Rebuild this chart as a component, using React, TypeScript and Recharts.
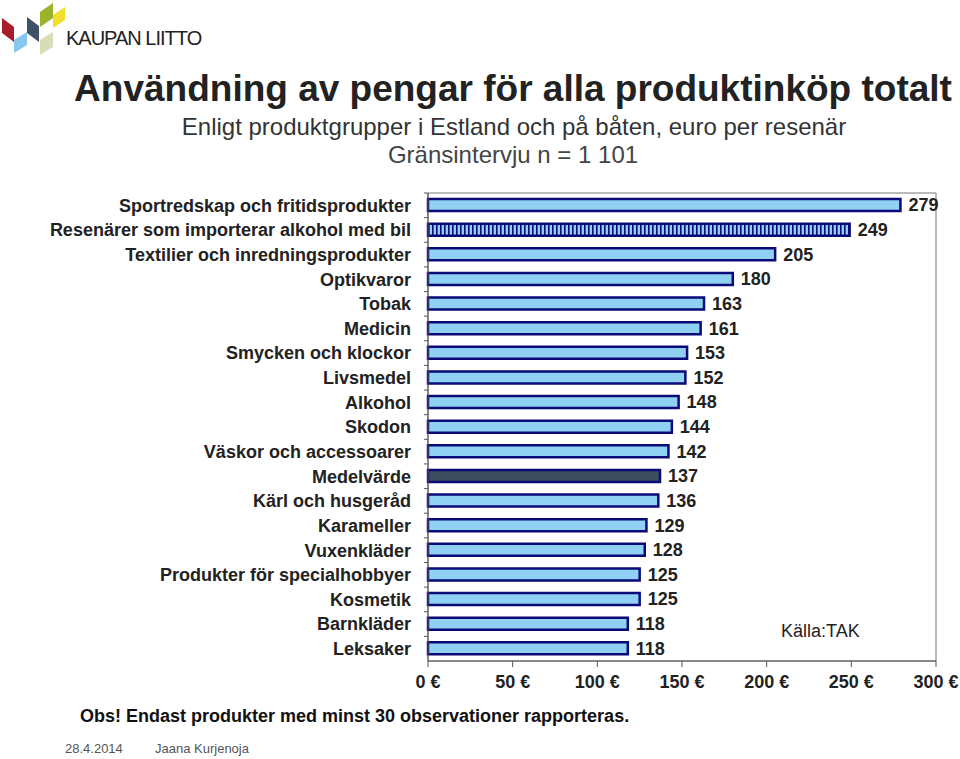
import { BarChart, Bar, XAxis, YAxis, Cell, LabelList, ReferenceArea } from 'recharts'

const CATEGORIES = [
  'Sportredskap och fritidsprodukter',
  'Resenärer som importerar alkohol med bil',
  'Textilier och inredningsprodukter',
  'Optikvaror',
  'Tobak',
  'Medicin',
  'Smycken och klockor',
  'Livsmedel',
  'Alkohol',
  'Skodon',
  'Väskor och accessoarer',
  'Medelvärde',
  'Kärl och husgeråd',
  'Karameller',
  'Vuxenkläder',
  'Produkter för specialhobbyer',
  'Kosmetik',
  'Barnkläder',
  'Leksaker',
]

const VALUES = [279, 249, 205, 180, 163, 161, 153, 152, 148, 144, 142, 137, 136, 129, 128, 125, 125, 118, 118]

const X_TICKS = [0, 50, 100, 150, 200, 250, 300]

const STRIPED = 'Resenärer som importerar alkohol med bil'
const AVERAGE = 'Medelvärde'

const FONT = '"Liberation Sans", Arial, Helvetica, sans-serif'
const BAR_FILL = '#8fd0f3'
const BAR_STROKE = '#0a0a78'
const TICK_SIZE = 4
const TICK_MARGIN = 13

const data = CATEGORIES.map((name, i) => ({ name, value: VALUES[i] }))

function fillFor(name: string) {
  if (name === STRIPED) return 'url(#stripes)'
  if (name === AVERAGE) return '#3b4d5f'
  return BAR_FILL
}

// category label plus a small tick at the upper band boundary (like the original)
function CategoryTick(props: any) {
  const { x, y, payload } = props
  const off = payload?.offset ?? 0
  const axisX = x + TICK_MARGIN + TICK_SIZE
  return (
    <g>
      <text
        x={x}
        y={y}
        dy="0.355em"
        textAnchor="end"
        fontSize={18}
        fontWeight="bold"
        fill="#222"
        fontFamily={FONT}
      >
        {payload.value}
      </text>
      {off > 0 && <line x1={axisX - TICK_SIZE} x2={axisX} y1={y - off} y2={y - off} stroke="#555" />}
    </g>
  )
}

function Logo() {
  return (
    <svg width={70} height={60} style={{ position: 'absolute', left: 0, top: 0 }}>
      <polygon points="2,18 14,27 14,42 2,33" fill="#a81d28" />
      <polygon points="14,40 27,32 27,45 14,53" fill="#86c8ee" />
      <polygon points="27,17 39,26 39,42 27,33" fill="#3f5265" />
      <polygon points="40,12 53,3 53,18 40,27" fill="#9bb22a" />
      <polygon points="53,15 65,7 65,20 53,28" fill="#f0e02c" />
      <polygon points="40,40 53,32 53,47 40,55" fill="#d9dcb6" />
    </svg>
  )
}

export default function App() {
  return (
    <div
      style={{
        position: 'absolute',
        left: 0,
        top: 0,
        width: 960,
        height: 759,
        background: '#fff',
        fontFamily: FONT,
        color: '#222',
        overflow: 'hidden',
      }}
    >
      <svg width={0} height={0} style={{ position: 'absolute' }}>
        <defs>
          <pattern id="stripes" width={4} height={4} patternUnits="userSpaceOnUse">
            <rect width={4} height={4} fill={BAR_FILL} />
            <rect width={1.6} height={4} fill={BAR_STROKE} />
          </pattern>
        </defs>
      </svg>

      <Logo />
      <div style={{ position: 'absolute', left: 66, top: 27, fontSize: 20, color: '#222', letterSpacing: -1 }}>
        KAUPAN LIITTO
      </div>

      <div
        style={{
          position: 'absolute',
          left: 0,
          width: 1026,
          top: 68,
          textAlign: 'center',
          fontSize: 37,
          fontWeight: 'bold',
          color: '#222',
        }}
      >
        Användning av pengar för alla produktinköp totalt
      </div>
      <div style={{ position: 'absolute', left: 0, width: 1028, top: 113, textAlign: 'center', fontSize: 24, color: '#333' }}>
        Enligt produktgrupper i Estland och på båten, euro per resenär
      </div>
      <div style={{ position: 'absolute', left: 0, width: 1026, top: 141, textAlign: 'center', fontSize: 24, color: '#444' }}>
        Gränsintervju n = 1 101
      </div>

      <div style={{ position: 'absolute', left: 0, top: 0 }}>
        <BarChart
          width={960}
          height={720}
          data={data}
          layout="vertical"
          margin={{ top: 193, right: 24, bottom: 29, left: 0 }}
          barCategoryGap={6}
        >
          <ReferenceArea x1={0} x2={300} stroke="#777" strokeWidth={1} fill="none" ifOverflow="extendDomain" />
          <XAxis
            type="number"
            domain={[0, 300]}
            ticks={X_TICKS}
            tickFormatter={(v: number) => `${v} €`}
            tick={{ fontSize: 18, fontWeight: 'bold', fill: '#222', fontFamily: FONT }}
            tickLine={{ stroke: '#555' }}
            tickSize={6}
            tickMargin={8}
            axisLine={{ stroke: '#555' }}
            height={30}
          />
          <YAxis
            type="category"
            dataKey="name"
            width={428}
            interval={0}
            tick={<CategoryTick />}
            tickLine={false}
            tickSize={TICK_SIZE}
            tickMargin={TICK_MARGIN}
            axisLine={{ stroke: '#555' }}
          />
          <Bar dataKey="value" barSize={12} stroke={BAR_STROKE} strokeWidth={2.5} isAnimationActive={false}>
            {data.map((d) => (
              <Cell key={d.name} fill={fillFor(d.name)} />
            ))}
            <LabelList
              dataKey="value"
              position="right"
              offset={8}
              style={{ fontSize: 18, fontWeight: 'bold', fill: '#222', fontFamily: FONT }}
            />
          </Bar>
        </BarChart>
      </div>

      <div style={{ position: 'absolute', left: 781, top: 621, fontSize: 18, color: '#222' }}>Källa:TAK</div>

      <div style={{ position: 'absolute', left: 80, top: 706, fontSize: 18, fontWeight: 'bold', color: '#111' }}>
        Obs! Endast produkter med minst 30 observationer rapporteras.
      </div>
      <div style={{ position: 'absolute', left: 65, top: 741, fontSize: 13, color: '#555' }}>28.4.2014</div>
      <div style={{ position: 'absolute', left: 155, top: 741, fontSize: 13, color: '#555' }}>Jaana Kurjenoja</div>
    </div>
  )
}
